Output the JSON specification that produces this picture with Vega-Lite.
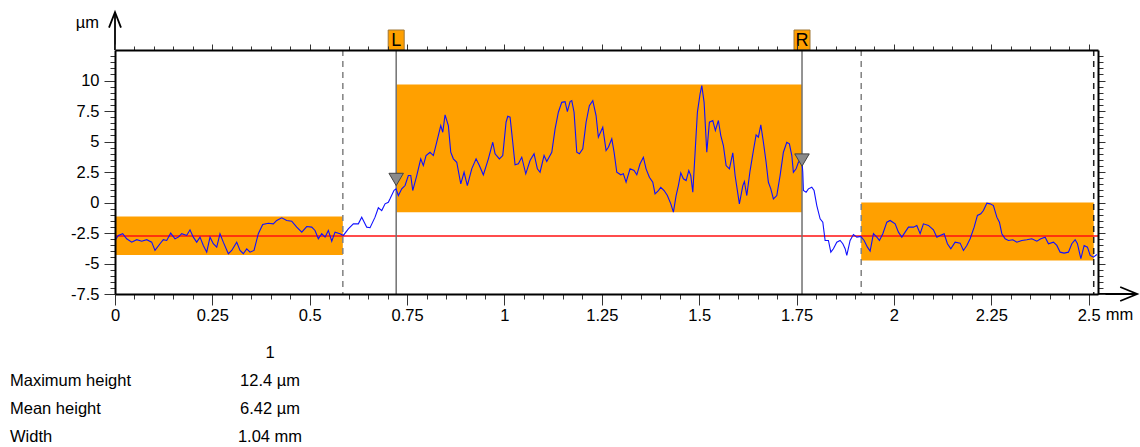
{
  "$schema": "https://vega.github.io/schema/vega-lite/v6.json",
  "width": 983,
  "height": 244,
  "autosize": {"type": "none"},
  "padding": {"left": 115, "top": 50, "right": 42, "bottom": 153},
  "background": "white",
  "config": {
    "view": {"stroke": null},
    "font": "Liberation Sans",
    "text": {"font": "Liberation Sans", "fontSize": 16.5, "color": "black"}
  },
  "datasets": {
    "profile": [
      {"x":0.000,"y":-3.10},{"x":0.0085,"y":-2.70},{"x":0.0198,"y":-2.56},{"x":0.030,"y":-2.97},{"x":0.0429,"y":-3.25},{"x":0.0557,"y":-3.05},{"x":0.0686,"y":-3.17},{"x":0.0814,"y":-3.05},{"x":0.0942,"y":-3.25},{"x":0.1027,"y":-3.93},{"x":0.1156,"y":-3.38},{"x":0.124,"y":-3.05},{"x":0.1328,"y":-3.11},{"x":0.143,"y":-2.51},{"x":0.1541,"y":-2.97},{"x":0.1626,"y":-2.84},{"x":0.1713,"y":-2.56},{"x":0.1841,"y":-2.70},{"x":0.1926,"y":-2.24},{"x":0.2011,"y":-2.84},{"x":0.2098,"y":-3.25},{"x":0.2183,"y":-2.84},{"x":0.2268,"y":-3.52},{"x":0.2355,"y":-4.07},{"x":0.244,"y":-2.84},{"x":0.2524,"y":-3.38},{"x":0.2612,"y":-3.66},{"x":0.2696,"y":-2.56},{"x":0.2781,"y":-3.25},{"x":0.291,"y":-4.20},{"x":0.2997,"y":-3.93},{"x":0.3125,"y":-3.25},{"x":0.321,"y":-3.93},{"x":0.3295,"y":-4.20},{"x":0.3382,"y":-3.80},{"x":0.3467,"y":-4.07},{"x":0.357,"y":-3.93},{"x":0.368,"y":-2.56},{"x":0.3793,"y":-1.80},{"x":0.3937,"y":-1.70},{"x":0.4065,"y":-1.75},{"x":0.4153,"y":-1.47},{"x":0.4281,"y":-1.25},{"x":0.4409,"y":-1.47},{"x":0.4538,"y":-1.53},{"x":0.4666,"y":-2.02},{"x":0.4795,"y":-2.43},{"x":0.4923,"y":-1.97},{"x":0.5051,"y":-2.02},{"x":0.5136,"y":-2.29},{"x":0.5221,"y":-2.97},{"x":0.5308,"y":-2.56},{"x":0.5393,"y":-2.84},{"x":0.5478,"y":-2.29},{"x":0.5565,"y":-3.17},{"x":0.565,"y":-2.43},{"x":0.5778,"y":-2.56},{"x":0.5863,"y":-2.70},{"x":0.5991,"y":-2.16},{"x":0.612,"y":-1.75},{"x":0.6248,"y":-1.75},{"x":0.6335,"y":-1.20},{"x":0.6464,"y":-2.02},{"x":0.6549,"y":-2.07},{"x":0.6677,"y":-1.20},{"x":0.6762,"y":-0.43},{"x":0.6849,"y":-0.66},{"x":0.6934,"y":-0.11},{"x":0.7018,"y":0.02},{"x":0.7062,"y":0.30},{"x":0.7165,"y":1.00},{"x":0.7216,"y":1.12},
      {"x":0.7275,"y":0.57},{"x":0.7363,"y":1.12},{"x":0.7448,"y":1.39},{"x":0.7532,"y":2.21},{"x":0.7594,"y":2.21},{"x":0.7645,"y":0.98},{"x":0.7748,"y":2.21},{"x":0.785,"y":3.58},{"x":0.7917,"y":3.03},{"x":0.7987,"y":3.85},{"x":0.8089,"y":4.12},{"x":0.8174,"y":3.85},{"x":0.8261,"y":4.94},{"x":0.8364,"y":6.31},{"x":0.8416,"y":5.76},{"x":0.8475,"y":7.18},{"x":0.8559,"y":6.31},{"x":0.8621,"y":4.12},{"x":0.8688,"y":3.58},{"x":0.8775,"y":3.30},{"x":0.8878,"y":1.53},{"x":0.8963,"y":2.48},{"x":0.9047,"y":1.39},{"x":0.916,"y":2.76},{"x":0.9271,"y":3.58},{"x":0.9355,"y":3.03},{"x":0.9458,"y":2.27},{"x":0.9587,"y":3.58},{"x":0.97,"y":4.94},{"x":0.9759,"y":3.99},{"x":0.9869,"y":3.58},{"x":0.9956,"y":3.85},{"x":1.0041,"y":6.58},{"x":1.0085,"y":7.07},{"x":1.0144,"y":6.99},{"x":1.0213,"y":4.94},{"x":1.0272,"y":3.09},{"x":1.0357,"y":3.17},{"x":1.0444,"y":3.71},{"x":1.0547,"y":2.35},{"x":1.0657,"y":3.44},{"x":1.076,"y":3.99},{"x":1.0845,"y":2.76},{"x":1.0914,"y":2.48},{"x":1.1017,"y":3.85},{"x":1.1086,"y":3.36},{"x":1.1215,"y":4.12},{"x":1.13,"y":6.04},{"x":1.1384,"y":7.40},{"x":1.1471,"y":8.21},{"x":1.1556,"y":8.27},{"x":1.1615,"y":7.45},{"x":1.1685,"y":8.27},{"x":1.1728,"y":8.35},{"x":1.1787,"y":7.40},{"x":1.1857,"y":4.12},{"x":1.1924,"y":3.99},{"x":1.2011,"y":4.40},{"x":1.2096,"y":6.58},{"x":1.218,"y":7.94},{"x":1.2268,"y":8.35},{"x":1.2352,"y":7.13},{"x":1.2411,"y":5.35},{"x":1.2524,"y":6.17},{"x":1.2609,"y":4.26},{"x":1.2668,"y":4.53},{"x":1.2756,"y":5.22},{"x":1.2815,"y":4.12},{"x":1.2884,"y":2.48},{"x":1.2987,"y":2.27},{"x":1.3053,"y":2.35},{"x":1.3123,"y":1.66},{"x":1.3225,"y":2.76},{"x":1.3328,"y":2.62},{"x":1.3398,"y":2.27},{"x":1.3482,"y":3.17},{"x":1.3567,"y":3.71},{"x":1.3636,"y":2.76},{"x":1.3721,"y":2.07},{"x":1.3808,"y":1.66},{"x":1.3867,"y":0.71},{"x":1.3952,"y":0.98},{"x":1.4014,"y":1.25},{"x":1.4099,"y":0.98},{"x":1.4183,"y":0.57},{"x":1.4271,"y":-0.11},{"x":1.4338,"y":-0.79},{"x":1.4407,"y":0.57},{"x":1.4466,"y":1.39},{"x":1.4527,"y":2.43},{"x":1.4594,"y":1.94},{"x":1.4664,"y":1.80},{"x":1.4733,"y":2.62},{"x":1.4784,"y":2.21},{"x":1.4836,"y":0.84},{"x":1.4895,"y":4.12},{"x":1.4954,"y":7.40},{"x":1.5023,"y":8.90},{"x":1.5067,"y":9.58},{"x":1.5126,"y":8.21},{"x":1.5195,"y":4.12},{"x":1.5262,"y":6.58},{"x":1.5349,"y":6.72},{"x":1.5416,"y":5.90},{"x":1.5493,"y":6.72},{"x":1.5555,"y":5.49},{"x":1.5621,"y":4.67},{"x":1.5691,"y":3.03},{"x":1.5776,"y":2.76},{"x":1.5863,"y":4.07},{"x":1.5922,"y":2.21},{"x":1.6032,"y":-0.11},{"x":1.612,"y":1.39},{"x":1.6161,"y":1.72},{"x":1.6222,"y":0.57},{"x":1.6307,"y":2.62},{"x":1.6392,"y":4.26},{"x":1.6461,"y":5.54},{"x":1.652,"y":5.35},{"x":1.6582,"y":6.36},{"x":1.6649,"y":4.94},{"x":1.6718,"y":3.30},{"x":1.6777,"y":1.66},{"x":1.6839,"y":1.12},{"x":1.6905,"y":0.30},{"x":1.6993,"y":0.57},{"x":1.7077,"y":2.21},{"x":1.7162,"y":4.12},{"x":1.7249,"y":4.94},{"x":1.7316,"y":4.81},{"x":1.7378,"y":3.85},{"x":1.7419,"y":2.48},{"x":1.7488,"y":2.76},{"x":1.7547,"y":3.30},{"x":1.7635,"y":3.58},{"x":1.766,"y":2.48},
      {"x":1.7676,"y":0.98},{"x":1.7745,"y":0.84},{"x":1.7804,"y":1.12},{"x":1.7891,"y":1.25},{"x":1.795,"y":0.98},{"x":1.802,"y":-0.25},{"x":1.8105,"y":-1.34},{"x":1.8174,"y":-1.61},{"x":1.8233,"y":-3.11},{"x":1.8318,"y":-3.11},{"x":1.838,"y":-4.07},{"x":1.8446,"y":-3.79},{"x":1.8533,"y":-3.25},{"x":1.8618,"y":-3.11},{"x":1.8688,"y":-3.38},{"x":1.8747,"y":-3.79},{"x":1.879,"y":-4.34},{"x":1.8875,"y":-3.11},{"x":1.896,"y":-2.62},{"x":1.9047,"y":-2.84},{"x":1.915,"y":-2.78},{"x":1.9235,"y":-3.11},{"x":1.932,"y":-3.66},{"x":1.9389,"y":-3.99},{"x":1.9474,"y":-2.56},{"x":1.9561,"y":-2.84},{"x":1.9628,"y":-3.11},{"x":1.9715,"y":-2.56},{"x":1.9818,"y":-1.61},{"x":1.9902,"y":-1.47},{"x":2.0031,"y":-1.75},{"x":2.0116,"y":-2.43},{"x":2.0203,"y":-2.84},{"x":2.0288,"y":-2.43},{"x":2.0373,"y":-2.02},{"x":2.0501,"y":-2.02},{"x":2.0588,"y":-1.88},{"x":2.0673,"y":-2.56},{"x":2.0757,"y":-1.75},{"x":2.0886,"y":-1.88},{"x":2.1014,"y":-2.24},{"x":2.1102,"y":-2.84},{"x":2.1186,"y":-2.70},{"x":2.1289,"y":-2.56},{"x":2.1374,"y":-3.38},{"x":2.1461,"y":-3.79},{"x":2.1572,"y":-3.25},{"x":2.17,"y":-3.33},{"x":2.1785,"y":-3.93},{"x":2.1872,"y":-3.52},{"x":2.1957,"y":-2.97},{"x":2.206,"y":-2.02},{"x":2.2144,"y":-1.06},{"x":2.2231,"y":-0.93},{"x":2.2298,"y":-0.66},{"x":2.2386,"y":-0.06},{"x":2.247,"y":-0.11},{"x":2.2555,"y":-0.25},{"x":2.2642,"y":-1.20},{"x":2.2709,"y":-1.61},{"x":2.2771,"y":-2.56},{"x":2.2856,"y":-2.97},{"x":2.294,"y":-3.11},{"x":2.3053,"y":-3.05},{"x":2.3156,"y":-3.25},{"x":2.3284,"y":-3.11},{"x":2.3413,"y":-3.05},{"x":2.3541,"y":-2.97},{"x":2.367,"y":-3.17},{"x":2.3772,"y":-2.97},{"x":2.3883,"y":-2.84},{"x":2.3968,"y":-3.38},{"x":2.4096,"y":-3.25},{"x":2.4183,"y":-3.52},{"x":2.4268,"y":-4.07},{"x":2.437,"y":-4.15},{"x":2.4481,"y":-4.07},{"x":2.4568,"y":-3.38},{"x":2.4653,"y":-3.05},{"x":2.4712,"y":-3.38},{"x":2.48,"y":-4.61},{"x":2.4884,"y":-3.52},{"x":2.4969,"y":-3.66},{"x":2.5039,"y":-4.34},{"x":2.5123,"y":-4.48},{"x":2.521,"y":-4.26}
    ],
    "zones": [
      {"x1": 0, "x2": 0.585, "y1": -4.3, "y2": -1.15},
      {"x1": 0.722, "x2": 1.764, "y1": -0.8, "y2": 9.68},
      {"x1": 1.916, "x2": 2.513, "y1": -4.75, "y2": 0}
    ],
    "dashed": [{"x": 0.585}, {"x": 1.916}],
    "dashedEnd": [{"x": 2.513}],
    "cursors": [
      {"name": "L", "x": 0.722, "y": 12.5, "tri": 1.89},
      {"name": "R", "x": 1.764, "y": 12.5, "tri": 3.48}
    ],
    "mean": [{"y": -2.75}],
    "arrows": [
      {"id": "ya", "o": 1, "x": 0, "y": 12.5}, {"id": "ya", "o": 2, "x": 0, "y": 15.6},
      {"id": "yh", "o": 1, "x": -0.0154, "y": 14.34}, {"id": "yh", "o": 2, "x": 0, "y": 15.6}, {"id": "yh", "o": 3, "x": 0.0154, "y": 14.34},
      {"id": "xa", "o": 1, "x": 2.524, "y": -7.5}, {"id": "xa", "o": 2, "x": 2.6245, "y": -7.5},
      {"id": "xh", "o": 1, "x": 2.581, "y": -6.926}, {"id": "xh", "o": 2, "x": 2.6245, "y": -7.5}, {"id": "xh", "o": 3, "x": 2.581, "y": -8.074}
    ],
    "yunit": [{"x": 0, "y": 12.5, "t": "µm"}],
    "xunit": [{"x": 2.5, "y": -7.5, "t": "mm"}],
    "table": [
      {"row": "hdr", "col": "value", "t": "1"},
      {"row": "Maximum height", "col": "name", "t": "Maximum height"},
      {"row": "Maximum height", "col": "value", "t": "12.4 µm"},
      {"row": "Mean height", "col": "name", "t": "Mean height"},
      {"row": "Mean height", "col": "value", "t": "6.42 µm"},
      {"row": "Width", "col": "name", "t": "Width"},
      {"row": "Width", "col": "value", "t": "1.04 mm"}
    ]
  },
  "layer": [
    {
      "layer": [
        {
          "data": {"name": "zones"},
          "mark": {"type": "rect", "color": "#ffa000"},
          "encoding": {
            "x": {
              "field": "x1", "type": "quantitative",
              "scale": {"domain": [0, 2.524], "nice": false, "zero": false},
              "axis": {
                "orient": "bottom", "title": null, "grid": false, "zindex": 1,
                "values": [0,0.05,0.1,0.15,0.2,0.25,0.3,0.35,0.4,0.45,0.5,0.55,0.6,0.65,0.7,0.75,0.8,0.85,0.9,0.95,1,1.05,1.1,1.15,1.2,1.25,1.3,1.35,1.4,1.45,1.5,1.55,1.6,1.65,1.7,1.75,1.8,1.85,1.9,1.95,2,2.05,2.1,2.15,2.2,2.25,2.3,2.35,2.4,2.45,2.5],
                "tickSize": {"condition": {"test": "abs(datum.value*4-round(datum.value*4))<0.001", "value": 11}, "value": 5},
                "labelExpr": "abs(datum.value*4-round(datum.value*4))<0.001 ? ''+round(datum.value*100)/100 : ''",
                "labelFlush": false, "labelOverlap": false, "labelBound": false,
                "labelFont": "Liberation Sans", "labelFontSize": 16.5, "labelColor": "black", "labelPadding": 2,
                "domainColor": "black", "domainWidth": 2, "tickColor": "#333", "tickWidth": 1
              }
            },
            "x2": {"field": "x2"},
            "y": {
              "field": "y1", "type": "quantitative",
              "scale": {"domain": [-7.5, 12.5], "nice": false, "zero": false},
              "axis": {
                "orient": "left", "title": null, "grid": false, "zindex": 1,
                "values": [-7.5,-7,-6.5,-6,-5.5,-5,-4.5,-4,-3.5,-3,-2.5,-2,-1.5,-1,-0.5,0,0.5,1,1.5,2,2.5,3,3.5,4,4.5,5,5.5,6,6.5,7,7.5,8,8.5,9,9.5,10,10.5,11,11.5,12],
                "tickSize": {"condition": {"test": "abs(datum.value/2.5-round(datum.value/2.5))<0.001", "value": 11}, "value": 5},
                "labelExpr": "abs(datum.value/2.5-round(datum.value/2.5))<0.001 && datum.value<11 ? ''+datum.value : ''",
                "labelFlush": false, "labelOverlap": false, "labelBound": false,
                "labelFont": "Liberation Sans", "labelFontSize": 16.5, "labelColor": "black", "labelPadding": 5,
                "domainColor": "black", "domainWidth": 2, "tickColor": "#333", "tickWidth": 1
              }
            },
            "y2": {"field": "y2"}
          }
        },
        {
          "data": {"name": "mean"},
          "mark": {"type": "rule", "color": "#ff1010", "strokeWidth": 1.5},
          "encoding": {"y": {"field": "y", "type": "quantitative", "axis": null}}
        },
        {
          "data": {"name": "dashed"},
          "mark": {"type": "rule", "color": "#808080", "strokeWidth": 1.5, "strokeDash": [6, 5]},
          "encoding": {"x": {"field": "x", "type": "quantitative", "axis": null}}
        },
        {
          "data": {"name": "dashedEnd"},
          "mark": {"type": "rule", "color": "#222222", "strokeWidth": 1.5, "strokeDash": [6, 5]},
          "encoding": {"x": {"field": "x", "type": "quantitative", "axis": null}}
        },
        {
          "data": {"name": "cursors"},
          "mark": {"type": "rule", "color": "#707070", "strokeWidth": 1.5},
          "encoding": {"x": {"field": "x", "type": "quantitative", "axis": null}}
        },
        {
          "data": {"name": "profile"},
          "mark": {"type": "line", "color": "#1010ff", "strokeWidth": 1.1},
          "encoding": {
            "x": {
              "field": "x", "type": "quantitative",
              "axis": {
                "orient": "top", "title": null, "grid": false, "labels": false, "zindex": 1,
                "values": [0,0.05,0.1,0.15,0.2,0.25,0.3,0.35,0.4,0.45,0.5,0.55,0.6,0.65,0.7,0.75,0.8,0.85,0.9,0.95,1,1.05,1.1,1.15,1.2,1.25,1.3,1.35,1.4,1.45,1.5,1.55,1.6,1.65,1.7,1.75,1.8,1.85,1.9,1.95,2,2.05,2.1,2.15,2.2,2.25,2.3,2.35,2.4,2.45,2.5],
                "tickSize": {"condition": {"test": "abs(datum.value*4-round(datum.value*4))<0.001", "value": 6}, "value": 4},
                "domainColor": "black", "domainWidth": 2, "tickColor": "#333", "tickWidth": 1
              }
            },
            "y": {
              "field": "y", "type": "quantitative",
              "axis": {
                "orient": "right", "title": null, "grid": false, "labels": false, "zindex": 1,
                "values": [-7.5,-7,-6.5,-6,-5.5,-5,-4.5,-4,-3.5,-3,-2.5,-2,-1.5,-1,-0.5,0,0.5,1,1.5,2,2.5,3,3.5,4,4.5,5,5.5,6,6.5,7,7.5,8,8.5,9,9.5,10,10.5,11,11.5,12],
                "tickSize": {"condition": {"test": "abs(datum.value/2.5-round(datum.value/2.5))<0.001", "value": 7}, "value": 5},
                "domainColor": "black", "domainWidth": 2, "tickColor": "#333", "tickWidth": 1
              }
            }
          }
        },
        {
          "data": {"name": "cursors"},
          "mark": {"type": "point", "shape": "M-1,-0.85L1,-0.85L0,0.85Z", "size": 210, "filled": true, "fill": "#8a8a8a", "stroke": "#444444", "strokeWidth": 1, "opacity": 1},
          "encoding": {
            "x": {"field": "x", "type": "quantitative", "axis": null},
            "y": {"field": "tri", "type": "quantitative", "axis": null}
          }
        },
        {
          "data": {"name": "cursors"},
          "mark": {"type": "point", "shape": "M-0.8,-1L0.8,-1L0.8,1L-0.8,1Z", "size": 400, "filled": true, "fill": "#ffa000", "stroke": "#a07838", "strokeWidth": 1, "opacity": 1, "yOffset": -10, "clip": false},
          "encoding": {
            "x": {"field": "x", "type": "quantitative", "axis": null},
            "y": {"field": "y", "type": "quantitative", "axis": null}
          }
        },
        {
          "data": {"name": "cursors"},
          "mark": {"type": "text", "fontSize": 18, "align": "center", "baseline": "middle", "yOffset": -9, "color": "black", "clip": false},
          "encoding": {
            "x": {"field": "x", "type": "quantitative", "axis": null},
            "y": {"field": "y", "type": "quantitative", "axis": null},
            "text": {"field": "name"}
          }
        },
        {
          "data": {"name": "arrows"},
          "mark": {"type": "line", "color": "black", "strokeWidth": 1.8, "clip": false},
          "encoding": {
            "x": {"field": "x", "type": "quantitative", "axis": null},
            "y": {"field": "y", "type": "quantitative", "axis": null},
            "detail": {"field": "id"},
            "order": {"field": "o"}
          }
        },
        {
          "data": {"name": "yunit"},
          "mark": {"type": "text", "fontSize": 16.5, "align": "right", "baseline": "alphabetic", "dx": -16, "dy": -22, "clip": false},
          "encoding": {
            "x": {"field": "x", "type": "quantitative", "axis": null},
            "y": {"field": "y", "type": "quantitative", "axis": null},
            "text": {"field": "t"}
          }
        },
        {
          "data": {"name": "xunit"},
          "mark": {"type": "text", "fontSize": 16.5, "align": "left", "baseline": "top", "dx": 17, "dy": 13, "clip": false},
          "encoding": {
            "x": {"field": "x", "type": "quantitative", "axis": null},
            "y": {"field": "y", "type": "quantitative", "axis": null},
            "text": {"field": "t"}
          }
        }
      ],
      "resolve": {"axis": {"x": "independent", "y": "independent"}}
    },
    {
      "data": {"name": "table"},
      "transform": [{"filter": "datum.col == 'name'"}],
      "mark": {"type": "text", "fontSize": 16.5, "align": "left", "baseline": "middle", "clip": false},
      "encoding": {
        "x": {"field": "col", "type": "nominal", "scale": {"type": "point", "domain": ["name", "value"], "range": [-105, 155], "padding": 0}, "axis": null},
        "y": {"field": "row", "type": "nominal", "scale": {"type": "point", "domain": ["hdr", "Maximum height", "Mean height", "Width"], "range": [303, 387], "padding": 0}, "axis": null},
        "text": {"field": "t"}
      }
    },
    {
      "data": {"name": "table"},
      "transform": [{"filter": "datum.col == 'value'"}],
      "mark": {"type": "text", "fontSize": 16.5, "align": "center", "baseline": "middle", "clip": false},
      "encoding": {
        "x": {"field": "col", "type": "nominal", "scale": {"type": "point", "domain": ["name", "value"], "range": [-105, 155], "padding": 0}, "axis": null},
        "y": {"field": "row", "type": "nominal", "scale": {"type": "point", "domain": ["hdr", "Maximum height", "Mean height", "Width"], "range": [303, 387], "padding": 0}, "axis": null},
        "text": {"field": "t"}
      }
    }
  ],
  "resolve": {"scale": {"x": "independent", "y": "independent"}}
}
